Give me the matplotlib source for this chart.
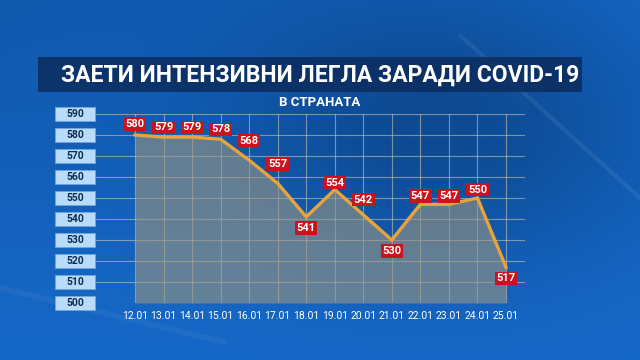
import matplotlib.pyplot as plt
import numpy as np
from matplotlib.patches import Rectangle
from matplotlib.colors import LinearSegmentedColormap
from matplotlib.transforms import blended_transform_factory

dates = ["12.01", "13.01", "14.01", "15.01", "16.01", "17.01", "18.01",
         "19.01", "20.01", "21.01", "22.01", "23.01", "24.01", "25.01"]
beds = [580, 579, 579, 578, 568, 557, 541, 554, 542, 530, 547, 547, 550, 517]
yticks = [500, 510, 520, 530, 540, 550, 560, 570, 580, 590]

title = "ЗАЕТИ ИНТЕНЗИВНИ ЛЕГЛА ЗАРАДИ COVID-19"
subtitle = "В СТРАНАТА"

# label offsets in points (above > 0, below < 0)
label_dy = [8, 7, 7, 7, 14, 14, -8, 5, 11, -8, 6, 6, 6, -8]

fig = plt.figure(figsize=(6.4, 3.6), dpi=100)

# background gradient
bg = fig.add_axes([0, 0, 1, 1], zorder=-10)
bg.set_axis_off()
yy, xx = np.mgrid[0:1:180j, 0:1:320j]
val = 0.45 * np.exp(-((xx - 0.7) ** 2 / 0.12 + (yy - 0.35) ** 2 / 0.15)) + 0.25 * (1 - yy) * (1 - xx)
val = np.clip(val, 0, 1)
cmap_bg = LinearSegmentedColormap.from_list("bg", ["#1668c8", "#1159ad", "#0d4a92"])
bg.imshow(val, cmap=cmap_bg, aspect="auto", extent=[0, 1, 0, 1], origin="upper")
bg.plot([0.72, 1.0], [0.9, 0.45], color="white", alpha=0.07, lw=3)
bg.plot([0.0, 0.35], [0.2, 0.05], color="white", alpha=0.05, lw=4)
bg.set_xlim(0, 1)
bg.set_ylim(0, 1)

# title bar
fig.patches.append(Rectangle((38 / 640, 1 - 92 / 360), 544 / 640, 35 / 360,
                             transform=fig.transFigure, fc="#0b2c5e", ec="none", alpha=0.85))
fig.text(0.5, 1 - 75 / 360, title, ha="center", va="center", color="white",
         fontsize=16.5, fontweight="bold", family="Roboto")
fig.text(0.5, 1 - 102 / 360, subtitle, ha="center", va="center", color="white",
         fontsize=9.5, fontweight="bold", family="Roboto")

# main axes: x from 95 px to 525 px, y 500 at 303 px, 590 at 114 px
ax = fig.add_axes([95 / 640, 57 / 360, 430 / 640, 189 / 360])
ax.patch.set_alpha(0)
x = np.arange(len(dates))
step = (506 - 135) / 13
ax.set_xlim(-40 / step, 13 + 19 / step)
ax.set_ylim(500, 590)
for s in ax.spines.values():
    s.set_visible(False)

ax.set_xticks(x)
ax.set_xticklabels(dates, color="white", fontsize=7.5, family="Roboto")
ax.set_yticks(yticks)
ax.set_yticklabels([])
ax.tick_params(length=0, pad=6)
ax.grid(True, color="#d8cfae", alpha=0.55, lw=0.8)
ax.set_axisbelow(True)

ax.fill_between(x, beds, 500, color="#9a9580", alpha=0.6, lw=0, zorder=2)
ax.plot(x, beds, color="#e9a33a", lw=2.4, zorder=3, solid_joinstyle="miter")

for xi, v, dy in zip(x, beds, label_dy):
    ax.annotate(str(v), (xi, v), xytext=(0, dy), textcoords="offset points",
                ha="center", va="center", color="white", fontsize=8, fontweight="bold",
                family="Roboto", zorder=5,
                bbox=dict(boxstyle="square,pad=0.15", fc="#c9141f", ec="none"))

# y tick label boxes
tr = blended_transform_factory(fig.transFigure, ax.transData)
for v in yticks:
    ax.add_patch(Rectangle((55 / 640, v - 3.4), 40 / 640, 6.8, transform=tr,
                           fc="#b9dcfa", ec="#6fa6dc", lw=0.6, clip_on=False, zorder=4))
    ax.text(75 / 640, v, str(v), transform=tr, ha="center", va="center",
            color="#0d2a55", fontsize=7.5, fontweight="bold", family="Roboto",
            clip_on=False, zorder=5)

fig.savefig("out.png", dpi=100)
